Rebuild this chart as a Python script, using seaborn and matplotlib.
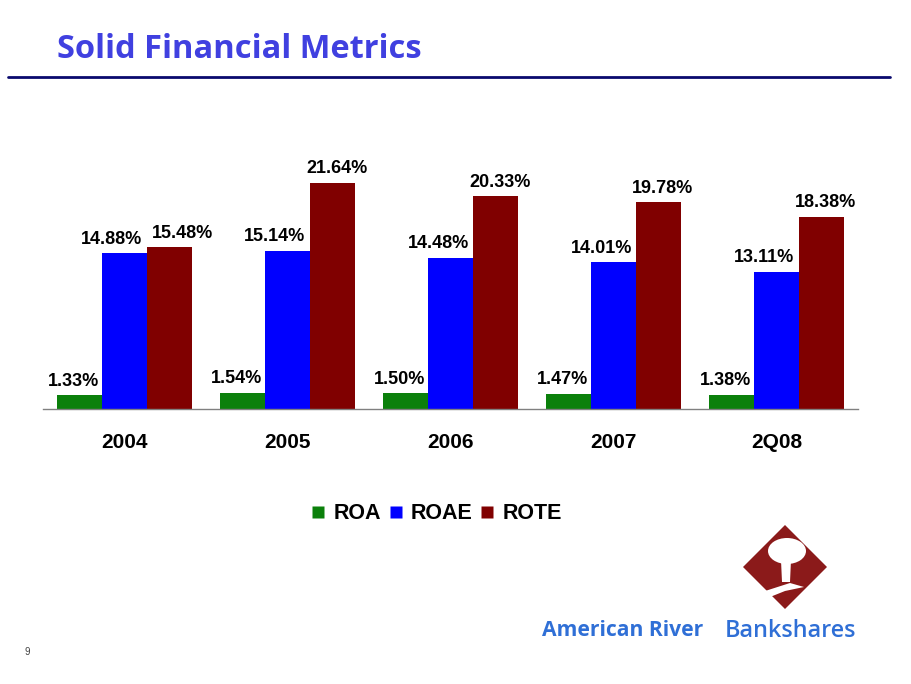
import matplotlib
matplotlib.use("Agg")
import matplotlib.pyplot as plt
import seaborn as sns
import pandas as pd
from matplotlib.patches import Polygon, Ellipse
from matplotlib.lines import Line2D

categories = ["2004", "2005", "2006", "2007", "2Q08"]
series = ["ROA", "ROAE", "ROTE"]
roa = [1.33, 1.54, 1.50, 1.47, 1.38]
roae = [14.88, 15.14, 14.48, 14.01, 13.11]
rote = [15.48, 21.64, 20.33, 19.78, 18.38]
colors = ["#0b800b", "#0000ff", "#800000"]

df = pd.DataFrame({
    "Period": categories * 3,
    "Metric": [s for s in series for _ in categories],
    "Value": roa + roae + rote,
})

sns.set_style("white")
plt.rcParams["font.family"] = ["Liberation Sans", "DejaVu Sans"]

fig = plt.figure(figsize=(9.12, 6.84), dpi=100)
ax = fig.add_axes([0.047, 0.402, 0.894, 0.367])

sns.barplot(data=df, x="Period", y="Value", hue="Metric", order=categories,
            hue_order=series, palette=colors, width=0.83, ax=ax, saturation=1,
            edgecolor="none", legend=False, errorbar=None)

# horizontal label nudges (in points) per series, like the original data labels
x_nudge = {"ROA": -4, "ROAE": -9, "ROTE": 3}
for name, cont in zip(series, ax.containers):
    for i, bar in enumerate(cont):
        h = bar.get_height()
        dx = x_nudge[name]
        if name == "ROTE" and abs(h - roae[i]) < 2:
            dx += 6
        ax.annotate(f"{h:.2f}%", (bar.get_x() + bar.get_width() / 2, h),
                    xytext=(dx, 4), textcoords="offset points",
                    ha="center", va="bottom", fontsize=13,
                    fontweight="bold", color="#000000")

ax.set_ylim(0, 24)
ax.set_xlim(-0.5, len(categories) - 0.5)
for s in ["top", "right", "left"]:
    ax.spines[s].set_visible(False)
ax.spines["bottom"].set_color("#808080")
ax.spines["bottom"].set_linewidth(1.0)
ax.set_yticks([])
ax.set_xticks(range(len(categories)))
ax.set_xticklabels(categories, fontsize=15, fontweight="bold", color="#000000")
ax.tick_params(axis="x", which="major", length=0, pad=17)
ax.set_xticks([i - 0.5 for i in range(len(categories) + 1)], minor=True)
ax.tick_params(axis="x", which="minor", length=5, color="#808080", width=1, direction="out")
ax.set_xlabel("")
ax.set_ylabel("")

handles = [Line2D([0], [0], marker="s", linestyle="none", markersize=8.5,
                  markerfacecolor=c, markeredgecolor="none") for c in colors]
fig.legend(handles, series, loc="center", bbox_to_anchor=(0.473, 0.249),
           ncol=3, frameon=False, handletextpad=-0.1, columnspacing=-0.12,
           handlelength=1.6, labelcolor="#000000",
           prop={"weight": "bold", "size": 15.5})

# Title and rule
fig.text(57 / 912, 1 - 50 / 684, "Solid Financial Metrics", fontsize=23.5,
         fontweight="bold", color="#4040e0", va="center", ha="left",
         family=["Open Sans", "DejaVu Sans"])
fig.add_artist(Line2D([8 / 912, 890 / 912], [1 - 77 / 684] * 2,
                      color="#0a0a6e", linewidth=2))

# Logo
lax = fig.add_axes([0, 0, 1, 1], zorder=-1)
lax.set_xlim(0, 912)
lax.set_ylim(684, 0)
lax.axis("off")
cx, cy = 785, 567
lax.add_patch(Polygon([(cx, 525), (827, cy), (cx, 609), (743, cy)],
                      closed=True, facecolor="#8b1a1a", edgecolor="none"))
lax.add_patch(Ellipse((cx + 2, 551), 38, 26, facecolor="white", edgecolor="none"))
lax.add_patch(Polygon([(cx - 4, 560), (cx + 6, 560), (cx + 5, 582), (cx - 3, 582)],
                      facecolor="white", edgecolor="none"))
lax.add_patch(Polygon([(762, 592), (790, 583), (804, 587), (785, 591), (770, 597)],
                      facecolor="white", edgecolor="none"))

fig.text(542 / 912, 1 - 631 / 684, "American River", fontsize=15.2, fontweight="bold",
         color="#2f6fd6", va="center", ha="left", family=["Open Sans", "DejaVu Sans"])
fig.text(856 / 912, 1 - 631 / 684, "Bankshares", fontsize=16.8, fontweight="semibold",
         color="#2f6fd6", va="center", ha="right", family=["Open Sans", "DejaVu Sans"])

fig.text(27 / 912, 1 - 652 / 684, "9", fontsize=7, color="#444444", va="center", ha="center")

fig.savefig("out.png", dpi=100, facecolor="white")
